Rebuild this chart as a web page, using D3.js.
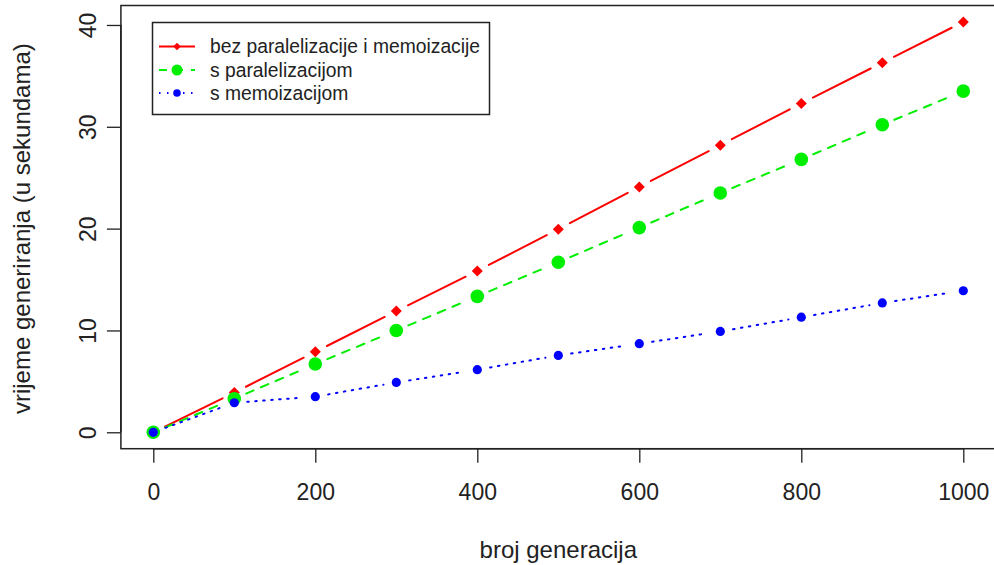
<!DOCTYPE html>
<html>
<head>
<meta charset="utf-8">
<script src="https://cdn.jsdelivr.net/npm/d3@7"></script>
<style>
  body { margin: 0; background: #fff; }
  svg { display: block; font-family: "Liberation Sans", Arial, sans-serif; }
</style>
</head>
<body>
<svg width="994" height="565"></svg>
<script>
// Chart data
var generations = [0, 100, 200, 300, 400, 500, 600, 700, 800, 900, 1000];
var timePlain = [0, 3.9, 7.9, 11.9, 15.85, 19.95, 24.1, 28.2, 32.3, 36.3, 40.3];
var timeParallel = [0, 3.3, 6.7, 10.0, 13.35, 16.7, 20.1, 23.5, 26.8, 30.2, 33.5];
var timeMemo = [0, 2.9, 3.5, 4.9, 6.15, 7.55, 8.7, 9.9, 11.3, 12.7, 13.9];
var seriesNames = ["bez paralelizacije i memoizacije", "s paralelizacijom", "s memoizacijom"];
var xTicks = [0, 200, 400, 600, 800, 1000];
var yTicks = [0, 10, 20, 30, 40];

(function () {
    "use strict";

    var svg = d3.select("svg");

    // Plot area (R style: 4% padding around the data range)
    var x = d3.scaleLinear().domain([-40, 1040]).range([120.9, 995.7]);
    var y = d3.scaleLinear().domain([-1.612, 41.912]).range([448.7, 5.5]);

    var series = [
        { name: seriesNames[0], values: timePlain, color: "#ff0000", dash: null, shape: "diamond", size: 5.5 },
        { name: seriesNames[1], values: timeParallel, color: "#00ee00", dash: "8,8", shape: "circle", size: 6.8 },
        { name: seriesNames[2], values: timeMemo, color: "#0000ff", dash: "1.5,6.5", shape: "circle", size: 4.6 }
    ];

    var gap = 13;

    // Draw each series as type="b": segments with gaps around the points
    series.forEach(function (s) {
        var pts = generations.map(function (g, i) { return [x(g), y(s.values[i])]; });
        var g = svg.append("g");
        for (var i = 0; i < pts.length - 1; i++) {
            var x0 = pts[i][0], y0 = pts[i][1], x1 = pts[i + 1][0], y1 = pts[i + 1][1];
            var len = Math.hypot(x1 - x0, y1 - y0);
            if (len <= 2 * gap) continue;
            var ux = (x1 - x0) / len, uy = (y1 - y0) / len;
            g.append("line")
                .attr("x1", x0 + ux * gap).attr("y1", y0 + uy * gap)
                .attr("x2", x1 - ux * gap).attr("y2", y1 - uy * gap)
                .attr("stroke", s.color)
                .attr("stroke-width", 2)
                .attr("stroke-linecap", "round")
                .attr("stroke-dasharray", s.dash);
        }
        drawPoints(g, pts, s, s.size);
    });

    function drawPoints(g, pts, s, r) {
        pts.forEach(function (p) {
            if (s.shape === "diamond") {
                g.append("path")
                    .attr("d", "M" + p[0] + "," + (p[1] - r) + "L" + (p[0] + r) + "," + p[1] +
                        "L" + p[0] + "," + (p[1] + r) + "L" + (p[0] - r) + "," + p[1] + "Z")
                    .attr("fill", s.color);
            } else {
                g.append("circle")
                    .attr("cx", p[0]).attr("cy", p[1]).attr("r", r)
                    .attr("fill", s.color);
            }
        });
    }

    // Box
    svg.append("rect")
        .attr("x", x.range()[0]).attr("y", y.range()[1])
        .attr("width", x.range()[1] - x.range()[0])
        .attr("height", y.range()[0] - y.range()[1])
        .attr("fill", "none")
        .attr("stroke", "#222")
        .attr("stroke-width", 1.5);

    // X axis
    var xAxis = svg.append("g")
        .attr("transform", "translate(0," + y.range()[0] + ")")
        .call(d3.axisBottom(x).tickValues(xTicks).tickFormat(d3.format("d"))
            .tickSize(14).tickPadding(21).tickSizeOuter(0));
    xAxis.select(".domain").attr("d", "M" + x(0) + ",0H" + x(1000)).attr("stroke", "#222").attr("stroke-width", 1.5);
    xAxis.selectAll(".tick line").attr("stroke", "#222").attr("stroke-width", 1.3);
    xAxis.selectAll(".tick text").attr("font-size", 23).attr("fill", "#222")
        .attr("font-family", "Liberation Sans, Arial, sans-serif");

    // Y axis
    var yAxis = svg.append("g")
        .attr("transform", "translate(" + x.range()[0] + ",0)")
        .call(d3.axisLeft(y).tickValues(yTicks).tickFormat(d3.format("d")).tickSize(14).tickSizeOuter(0));
    yAxis.select(".domain").attr("d", "M0," + y(0) + "V" + y(40)).attr("stroke", "#222").attr("stroke-width", 1.5);
    yAxis.selectAll(".tick line").attr("stroke", "#222").attr("stroke-width", 1.3);
    yAxis.selectAll(".tick text")
        .attr("x", null).attr("dy", null)
        .attr("font-size", 23).attr("fill", "#222")
        .attr("font-family", "Liberation Sans, Arial, sans-serif")
        .attr("text-anchor", "middle")
        .attr("transform", "translate(-25,0) rotate(-90)");

    // Axis titles
    svg.append("text")
        .attr("x", (x(0) + x(1000)) / 2).attr("y", 558)
        .attr("text-anchor", "middle")
        .attr("font-size", 24).attr("fill", "#222")
        .text("broj generacija");

    svg.append("text")
        .attr("transform", "translate(30," + (y(0) + y(40)) / 2 + ") rotate(-90)")
        .attr("text-anchor", "middle")
        .attr("font-size", 24).attr("fill", "#222")
        .text("vrijeme generiranja (u sekundama)");

    // Legend
    var legend = svg.append("g").attr("class", "legend");
    legend.append("rect")
        .attr("x", 152.5).attr("y", 22.5)
        .attr("width", 337).attr("height", 92)
        .attr("fill", "#fff")
        .attr("stroke", "#222")
        .attr("stroke-width", 1.5);

    var rowY = [46.5, 70, 93];
    var legendSizes = [3.8, 5.5, 3.8];
    series.forEach(function (s, i) {
        legend.append("line")
            .attr("x1", 159).attr("x2", 195)
            .attr("y1", rowY[i]).attr("y2", rowY[i])
            .attr("stroke", s.color)
            .attr("stroke-width", 2)
            .attr("stroke-dasharray", s.dash);
        drawPoints(legend, [[177, rowY[i]]], s, legendSizes[i]);
        legend.append("text")
            .attr("x", 210).attr("y", rowY[i])
            .attr("dy", "0.35em")
            .attr("font-size", 19.3).attr("fill", "#222")
            .text(s.name);
    });
})();
</script>
</body>
</html>
